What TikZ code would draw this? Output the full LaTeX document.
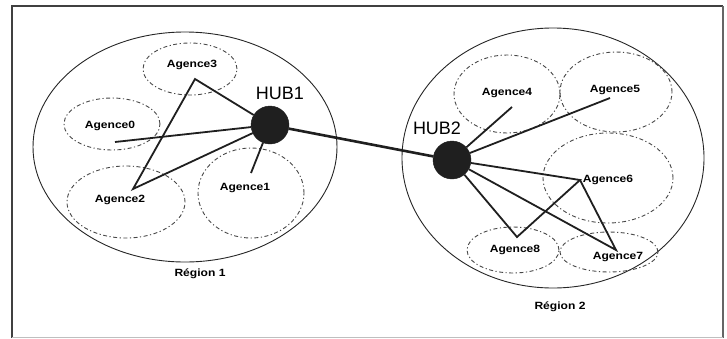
\documentclass[tikz,border=0pt]{standalone}
\usepackage{fontspec}
\setmainfont{Liberation Sans}
\newfontfamily\agfont[FakeStretch=1.15]{Liberation Sans Bold}
\newfontfamily\hubfont{Liberation Sans}
\usetikzlibrary{shapes.geometric}
\begin{document}
\begin{tikzpicture}[x=1pt,y=-1pt,
  region/.style={draw=black!85,line width=0.9pt},
  agency/.style={ellipse,draw=black!72,line width=0.9pt,
    dash pattern=on 4pt off 2.5pt on 1.2pt off 2.5pt,inner sep=0pt},
  aglabel/.style={font=\agfont\fontsize{10.5}{12}\selectfont,inner sep=0pt},
  reglabel/.style={font=\agfont\fontsize{10.5}{12}\selectfont,inner sep=0pt},
  hub/.style={circle,fill=black!88,draw=black!88,minimum size=38pt,inner sep=0pt},
  hublabel/.style={font=\hubfont\fontsize{18}{20}\selectfont,inner sep=0pt},
  link/.style={draw=black!88,line width=1.8pt,line join=miter},
  trunk/.style={draw=black!88,line width=2.6pt}]
\useasboundingbox (0,0) rectangle (727,338);
\fill[white] (0,0) rectangle (727,338);

% outer frame
\draw[black!75,line width=2pt] (12,338) -- (12,6) -- (723,6);
\draw[black!60,line width=1.2pt] (723,6) -- (723,338);
\draw[black!25,line width=0.8pt] (12,337) -- (723,337);

% regions
\node[region,ellipse,minimum width=304pt,minimum height=230pt] (r1) at (185,147) {};
\node[region,ellipse,minimum width=302pt,minimum height=260pt] (r2) at (553,158) {};
\node[reglabel] (r1t) at (200,274) {Région 1};
\node[reglabel] (r2t) at (560,307) {Région 2};

% agencies of region 1
\node[agency,minimum width=94pt,minimum height=52pt] (a3) at (190,69) {};
\node[agency,minimum width=96pt,minimum height=52pt] (a0) at (112,124) {};
\node[agency,minimum width=118pt,minimum height=72pt] (a2) at (126,202) {};
\node[agency,minimum width=106pt,minimum height=90pt] (a1) at (251,193) {};
\node[aglabel] (t3) at (192,65) {Agence3};
\node[aglabel] (t0) at (110,126) {Agence0};
\node[aglabel] (t2) at (120,200) {Agence2};
\node[aglabel] (t1) at (245,188) {Agence1};

% agencies of region 2
\node[agency,minimum width=106pt,minimum height=78pt] (a4) at (507,94) {};
\node[agency,minimum width=112pt,minimum height=80pt] (a5) at (616,92) {};
\node[agency,minimum width=130pt,minimum height=90pt] (a6) at (608,178) {};
\node[agency,minimum width=92pt,minimum height=46pt] (a8) at (513,250) {};
\node[agency,minimum width=98pt,minimum height=40pt] (a7) at (609,252) {};
\node[aglabel] (t4) at (507,93) {Agence4};
\node[aglabel] (t5) at (615,90) {Agence5};
\node[aglabel] (t6) at (608,180) {Agence6};
\node[aglabel] (t8) at (515,250) {Agence8};
\node[aglabel] (t7) at (618,257) {Agence7};

% connection points inside the agencies
\coordinate (v3) at (195,79);
\coordinate (v2) at (133,189);
\coordinate (v0) at (115,142);
\coordinate (v1) at (251,173);
\coordinate (v4) at (512,107);
\coordinate (v5) at (610,98);
\coordinate (v6) at (580,180);
\coordinate (v8) at (517,237);
\coordinate (v7) at (616,250);

% hubs
\node[hub] (h1) at (270,125) {};
\node[hub] (h2) at (452,160) {};
\node[hublabel] (h1t) at (280,93) {HUB1};
\node[hublabel] (h2t) at (437,128) {HUB2};

% links
\draw[trunk] (h1) -- (h2);
\draw[link] (h1) -- (v3) -- (v2) -- (h1);
\draw[link] (v0) -- (h1);
\draw[link] (v1) -- (h1);
\draw[link] (v4) -- (h2);
\draw[link] (v5) -- (h2);
\draw[link] (h2) -- (v6) -- (v8) -- (h2);
\draw[link] (v6) -- (v7) -- (h2);
\end{tikzpicture}
\end{document}
